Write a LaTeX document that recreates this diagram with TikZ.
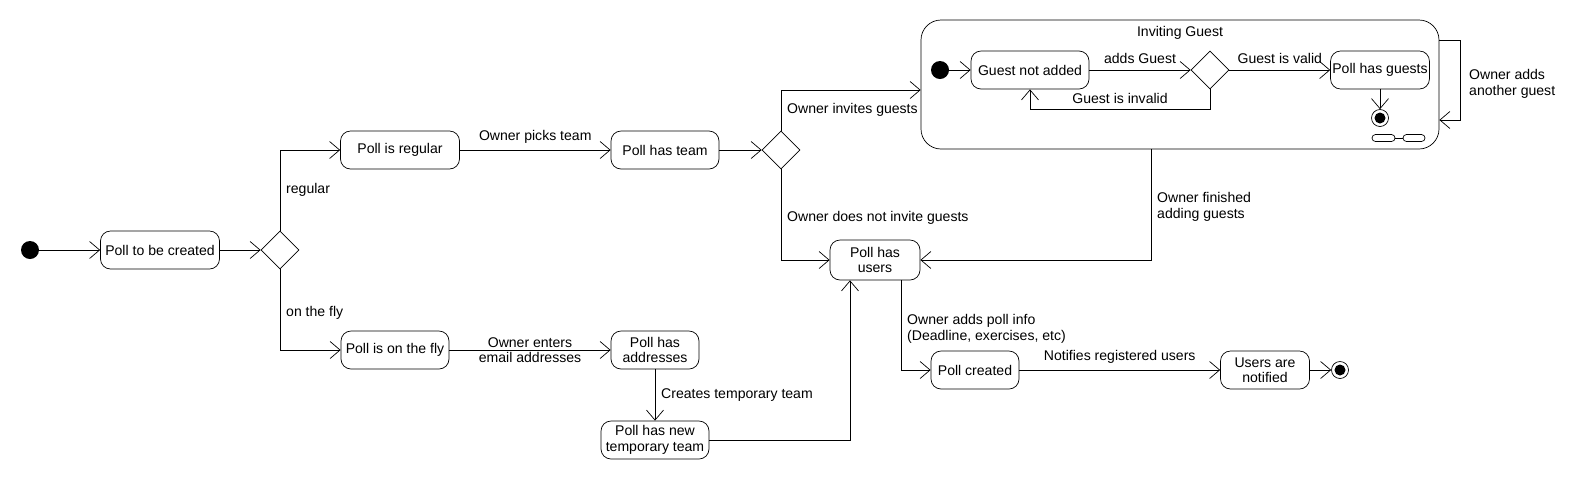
\documentclass[tikz,border=0pt]{standalone}
\usepackage{fontspec}
\setmainfont{Liberation Sans}
\usetikzlibrary{arrows.meta,shapes.geometric}

\begin{document}
\begin{tikzpicture}[font=\fontsize{8pt}{8.8pt}\selectfont,
  >={Straight Barb[length=2mm,width=3.4mm]},
  state/.style={draw, rounded corners=2mm, minimum height=7.6mm, align=center, inner sep=1pt},
  choice/.style={draw, diamond, minimum size=7.6mm, inner sep=0pt},
  start/.style={circle, fill, minimum size=3.6mm, inner sep=0pt},
  stop/.style={circle, draw, minimum size=3.4mm, inner sep=0pt,
    path picture={\fill (path picture bounding box.center) circle (1.1mm);}}]

\useasboundingbox (0,0) rectangle (316mm,-96mm);

% composite state
\node[draw, rounded corners=4mm, minimum width=103.6mm, minimum height=25.8mm] (invite) at (236mm,-16.9mm) {};
\node (title) at (236mm,-6.6mm) {Inviting Guest};

\node[start] (init) at (6mm,-50mm) {};
\node[state, minimum width=23.8mm] (todo) at (32mm,-50mm) {Poll to be created};
\node[choice] (d1) at (56mm,-50mm) {};

\node[state, minimum width=23.8mm] (regular) at (80mm,-30mm) {Poll is regular};
\node[state, minimum width=21.6mm] (fly) at (79mm,-70mm) {Poll is on the fly};
\node[state, minimum width=21.6mm] (team) at (133mm,-30mm) {Poll has team};
\node[state, minimum width=17.6mm] (addr) at (131mm,-70mm) {Poll has\\addresses};
\node[state, minimum width=21.6mm] (tmp) at (131mm,-88mm) {Poll has new\\temporary team};
\node[choice] (d2) at (156.2mm,-30mm) {};
\node[state, minimum width=18mm, minimum height=8mm] (users) at (175mm,-52mm) {Poll has\\users};

\node[start] (init2) at (188mm,-14mm) {};
\node[state, minimum width=23.6mm] (notadded) at (206mm,-14mm) {Guest not added};
\node[choice] (d3) at (242mm,-14mm) {};
\node[state, minimum width=19.6mm] (guests) at (276mm,-14mm) {Poll has guests};
\node[stop] (fin2) at (276mm,-23.6mm) {};

\node[state, minimum width=17.6mm] (created) at (195mm,-74mm) {Poll created};
\node[state, minimum width=17.8mm] (notified) at (253mm,-74mm) {Users are\\notified};
\node[stop] (fin) at (268mm,-74mm) {};

% decomposition icon
\draw[rounded corners=0.7mm] (274.4mm,-26.9mm) rectangle (279mm,-28.3mm);
\draw[rounded corners=0.7mm] (280.6mm,-26.9mm) rectangle (285mm,-28.3mm);
\draw (279mm,-27.6mm) -- (280.6mm,-27.6mm);

% transitions
\draw[->] (init) -- (todo);
\draw[->] (todo) -- (d1);
\draw[->] (d1.north) |- node[pos=0.25, right] {regular} (regular.west);
\draw[->] (d1.south) |- node[pos=0.27, right] {on the fly} (fly.west);
\draw[->] (regular) -- node[above] {Owner picks team} (team);
\draw[->] (fly) -- node[align=center] {Owner enters\\email addresses} (addr);
\draw[->] (addr) -- node[right] {Creates temporary team} (tmp);
\draw[->] (team) -- (d2);
\draw[->] (d2.north) |- node[pos=0.25, right] {Owner invites guests} ([yshift=-1.1mm]invite.west);
\draw[->] (d2.south) |- node[pos=0.27, right] {Owner does not invite guests} (users.west);
\draw[->] ([xshift=-5.8mm]invite.south) |- node[pos=0.26, right, align=left] {Owner finished\\adding guests} (users.east);
\draw[->] (tmp.east) -| ([xshift=-5mm]users.south);
\draw[->] ([xshift=5.2mm]users.south) |- node[pos=0.27, right, align=left] {Owner adds poll info\\(Deadline, exercises, etc)} (created.west);
\draw[->] (created) -- node[above] {Notifies registered users} (notified);
\draw[->] (notified) -- (fin);

\draw[->] (init2) -- (notadded);
\draw[->] (notadded) -- node[above] {adds Guest} (d3);
\draw[->] (d3) -- node[above] {Guest is valid} (guests);
\draw[->] (d3.south) -- ++(0,-4mm) -| node[pos=0.25, above] {Guest is invalid} (notadded.south);
\draw[->] (guests) -- (fin2);

\draw[->] ([yshift=8.9mm]invite.east) -- ++(4.2mm,0) |- ([yshift=-7.1mm]invite.east);
\node[anchor=west, align=left] (again) at (292.6mm,-16.8mm) {Owner adds\\another guest};

\end{tikzpicture}
\end{document}
